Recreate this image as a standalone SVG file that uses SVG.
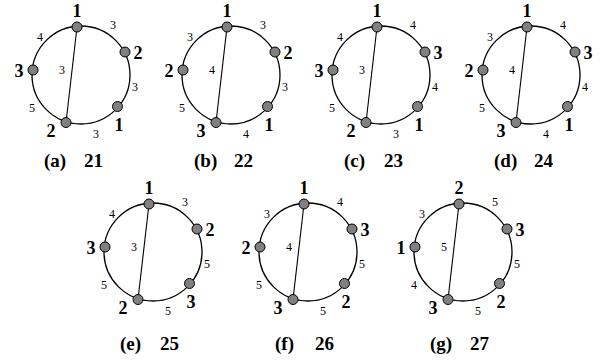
<svg xmlns="http://www.w3.org/2000/svg" width="608" height="364" viewBox="0 0 608 364">
<style>
.ring{fill:none;stroke:#000;stroke-width:1.3}
.chord{stroke:#000;stroke-width:1.1}
.nd{fill:#808080;stroke:#000;stroke-width:1}
.nl{font-family:"Liberation Serif",serif;font-weight:bold;font-size:18px;text-anchor:middle}
.el{font-family:"Liberation Serif",serif;font-size:12px;text-anchor:middle}
.cap{font-family:"Liberation Serif",serif;font-weight:bold;font-size:19px}
</style>
<rect width="608" height="364" fill="#fff"/>
<defs>
<g id="frame">
<circle class="ring" cx="81" cy="75" r="49"/>
<line class="chord" x1="77" y1="27" x2="66" y2="122.5"/>
</g>
</defs>

<g id="panel-a">
<g id="a-connectors"><use href="#frame"/>
<text class="el" x="40" y="41">4</text><text class="el" x="113" y="29">3</text><text class="el" x="135" y="91">3</text><text class="el" x="96" y="138">3</text><text class="el" x="32" y="112">5</text><text class="el" x="62" y="74">3</text></g>
<g id="a-n1"><circle class="nd" cx="77" cy="27" r="5"/><text class="nl" x="77" y="17">1</text></g>
<g id="a-n2"><circle class="nd" cx="125" cy="52" r="5"/><text class="nl" x="138" y="59">2</text></g>
<g id="a-n3"><circle class="nd" cx="33" cy="70" r="5"/><text class="nl" x="19" y="77">3</text></g>
<g id="a-n4"><circle class="nd" cx="117.5" cy="106.5" r="5"/><text class="nl" x="119" y="131">1</text></g>
<g id="a-n5"><circle class="nd" cx="66" cy="122.5" r="5"/><text class="nl" x="51" y="137">2</text></g>
<text class="cap" x="44" y="167">(a)<tspan x="84">21</tspan></text>
</g>

<g id="panel-b" transform="translate(150,0)">
<g id="b-connectors"><use href="#frame"/>
<text class="el" x="40" y="41">3</text><text class="el" x="113" y="29">3</text><text class="el" x="135" y="91">3</text><text class="el" x="96" y="138">4</text><text class="el" x="32" y="112">5</text><text class="el" x="62" y="74">4</text></g>
<g id="b-n1"><circle class="nd" cx="77" cy="27" r="5"/><text class="nl" x="77" y="17">1</text></g>
<g id="b-n2"><circle class="nd" cx="125" cy="52" r="5"/><text class="nl" x="138" y="59">2</text></g>
<g id="b-n3"><circle class="nd" cx="33" cy="70" r="5"/><text class="nl" x="19" y="77">2</text></g>
<g id="b-n4"><circle class="nd" cx="117.5" cy="106.5" r="5"/><text class="nl" x="119" y="131">1</text></g>
<g id="b-n5"><circle class="nd" cx="66" cy="122.5" r="5"/><text class="nl" x="51" y="137">3</text></g>
<text class="cap" x="44" y="167">(b)<tspan x="84">22</tspan></text>
</g>

<g id="panel-c" transform="translate(300,0)">
<g id="c-connectors"><use href="#frame"/>
<text class="el" x="40" y="41">4</text><text class="el" x="113" y="29">4</text><text class="el" x="135" y="91">4</text><text class="el" x="96" y="138">3</text><text class="el" x="32" y="112">5</text><text class="el" x="62" y="74">3</text></g>
<g id="c-n1"><circle class="nd" cx="77" cy="27" r="5"/><text class="nl" x="77" y="17">1</text></g>
<g id="c-n2"><circle class="nd" cx="125" cy="52" r="5"/><text class="nl" x="138" y="59">3</text></g>
<g id="c-n3"><circle class="nd" cx="33" cy="70" r="5"/><text class="nl" x="19" y="77">3</text></g>
<g id="c-n4"><circle class="nd" cx="117.5" cy="106.5" r="5"/><text class="nl" x="119" y="131">1</text></g>
<g id="c-n5"><circle class="nd" cx="66" cy="122.5" r="5"/><text class="nl" x="51" y="137">2</text></g>
<text class="cap" x="44" y="167">(c)<tspan x="84">23</tspan></text>
</g>

<g id="panel-d" transform="translate(450,0)">
<g id="d-connectors"><use href="#frame"/>
<text class="el" x="40" y="41">3</text><text class="el" x="113" y="29">4</text><text class="el" x="135" y="91">4</text><text class="el" x="96" y="138">4</text><text class="el" x="32" y="112">5</text><text class="el" x="62" y="74">4</text></g>
<g id="d-n1"><circle class="nd" cx="77" cy="27" r="5"/><text class="nl" x="77" y="17">1</text></g>
<g id="d-n2"><circle class="nd" cx="125" cy="52" r="5"/><text class="nl" x="138" y="59">3</text></g>
<g id="d-n3"><circle class="nd" cx="33" cy="70" r="5"/><text class="nl" x="19" y="77">2</text></g>
<g id="d-n4"><circle class="nd" cx="117.5" cy="106.5" r="5"/><text class="nl" x="119" y="131">1</text></g>
<g id="d-n5"><circle class="nd" cx="66" cy="122.5" r="5"/><text class="nl" x="51" y="137">3</text></g>
<text class="cap" x="44" y="167">(d)<tspan x="84">24</tspan></text>
</g>

<g id="panel-e" transform="translate(72,177)">
<g id="e-connectors"><use href="#frame"/>
<text class="el" x="40" y="41">4</text><text class="el" x="113" y="29">3</text><text class="el" x="135" y="91">5</text><text class="el" x="96" y="138">5</text><text class="el" x="32" y="112">5</text><text class="el" x="62" y="74">3</text></g>
<g id="e-n1"><circle class="nd" cx="77" cy="27" r="5"/><text class="nl" x="77" y="17">1</text></g>
<g id="e-n2"><circle class="nd" cx="125" cy="52" r="5"/><text class="nl" x="138" y="59">2</text></g>
<g id="e-n3"><circle class="nd" cx="33" cy="70" r="5"/><text class="nl" x="19" y="77">3</text></g>
<g id="e-n4"><circle class="nd" cx="117.5" cy="106.5" r="5"/><text class="nl" x="119" y="131">3</text></g>
<g id="e-n5"><circle class="nd" cx="66" cy="122.5" r="5"/><text class="nl" x="51" y="137">2</text></g>
<text class="cap" x="48" y="173">(e)<tspan x="88">25</tspan></text>
</g>

<g id="panel-f" transform="translate(227,177)">
<g id="f-connectors"><use href="#frame"/>
<text class="el" x="40" y="41">3</text><text class="el" x="113" y="29">4</text><text class="el" x="135" y="91">5</text><text class="el" x="96" y="138">5</text><text class="el" x="32" y="112">5</text><text class="el" x="62" y="74">4</text></g>
<g id="f-n1"><circle class="nd" cx="77" cy="27" r="5"/><text class="nl" x="77" y="17">1</text></g>
<g id="f-n2"><circle class="nd" cx="125" cy="52" r="5"/><text class="nl" x="138" y="59">3</text></g>
<g id="f-n3"><circle class="nd" cx="33" cy="70" r="5"/><text class="nl" x="19" y="77">2</text></g>
<g id="f-n4"><circle class="nd" cx="117.5" cy="106.5" r="5"/><text class="nl" x="119" y="131">2</text></g>
<g id="f-n5"><circle class="nd" cx="66" cy="122.5" r="5"/><text class="nl" x="51" y="137">3</text></g>
<text class="cap" x="48" y="173">(f)<tspan x="88">26</tspan></text>
</g>

<g id="panel-g" transform="translate(382,177)">
<g id="g-connectors"><use href="#frame"/>
<text class="el" x="40" y="41">3</text><text class="el" x="113" y="29">5</text><text class="el" x="135" y="91">5</text><text class="el" x="96" y="138">5</text><text class="el" x="32" y="112">4</text><text class="el" x="62" y="74">5</text></g>
<g id="g-n1"><circle class="nd" cx="77" cy="27" r="5"/><text class="nl" x="77" y="17">2</text></g>
<g id="g-n2"><circle class="nd" cx="125" cy="52" r="5"/><text class="nl" x="138" y="59">3</text></g>
<g id="g-n3"><circle class="nd" cx="33" cy="70" r="5"/><text class="nl" x="19" y="77">1</text></g>
<g id="g-n4"><circle class="nd" cx="117.5" cy="106.5" r="5"/><text class="nl" x="119" y="131">2</text></g>
<g id="g-n5"><circle class="nd" cx="66" cy="122.5" r="5"/><text class="nl" x="51" y="137">3</text></g>
<text class="cap" x="48" y="173">(g)<tspan x="88">27</tspan></text>
</g>
</svg>
